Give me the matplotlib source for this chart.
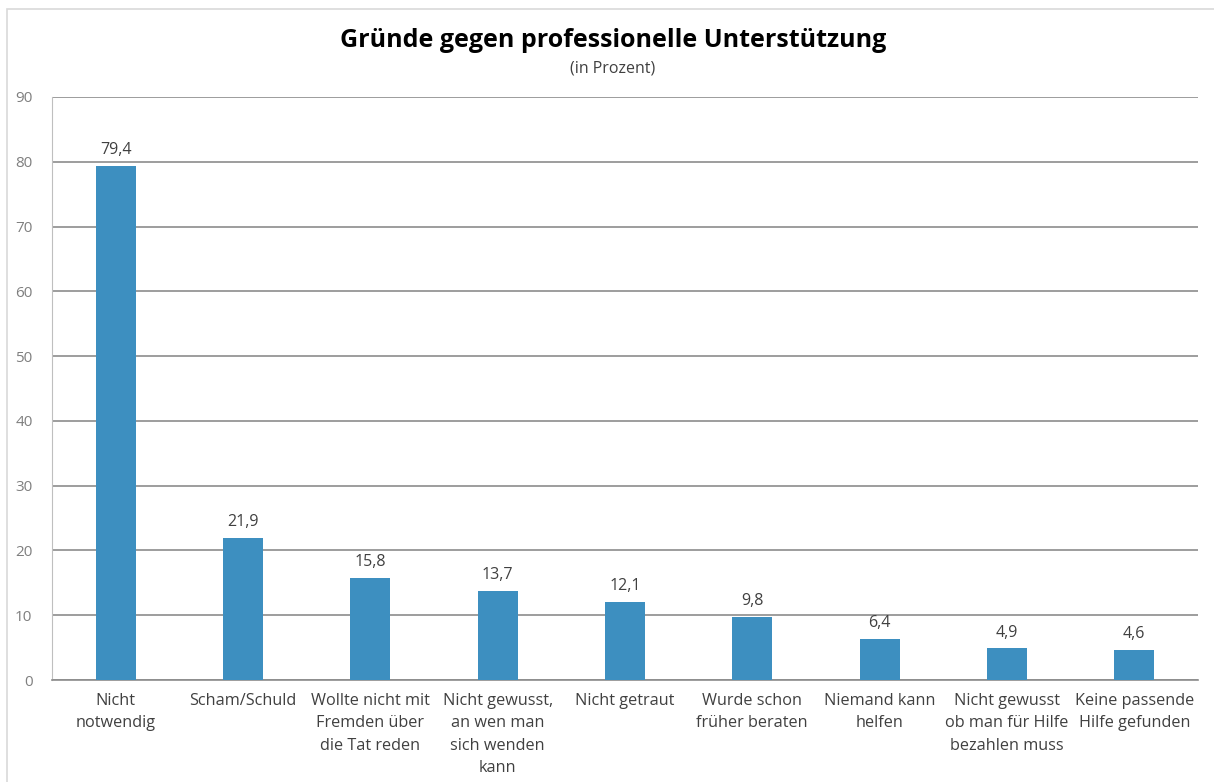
import matplotlib
matplotlib.use("Agg")
import matplotlib.pyplot as plt
from matplotlib.patches import Rectangle

# ── Data ─────────────────────────────────────────────────────────────
categories = [
    "Nicht\nnotwendig",
    "Scham/Schuld",
    "Wollte nicht mit\nFremden über\ndie Tat reden",
    "Nicht gewusst,\nan wen man\nsich wenden\nkann",
    "Nicht getraut",
    "Wurde schon\nfrüher beraten",
    "Niemand kann\nhelfen",
    "Nicht gewusst\nob man für Hilfe\nbezahlen muss",
    "Keine passende\nHilfe gefunden",
]
values = [79.4, 21.9, 15.8, 13.7, 12.1, 9.8, 6.4, 4.9, 4.6]
yticks = [0, 10, 20, 30, 40, 50, 60, 70, 80, 90]

plt.rcParams["font.family"] = ["Open Sans", "DejaVu Sans"]

fig = plt.figure(figsize=(12.14, 7.82), dpi=100)
ax = fig.add_axes([0.0428, 0.1304, 0.944, 0.7456])

x = range(len(values))
ax.bar(x, values, width=0.315, color="#3d8fc0", zorder=3)
for xi, v in zip(x, values):
    ax.text(xi, v + 1.2, f"{v:.1f}".replace(".", ","), ha="center", va="bottom",
            fontsize=11.5, color="#404040")

ax.set_xlim(-0.5, len(values) - 0.5)
ax.set_ylim(0, 90)
ax.set_yticks(yticks)
ax.yaxis.grid(True, color="#8c8c8c", linewidth=1.2, zorder=0)
ax.set_axisbelow(True)
ax.tick_params(axis="y", length=0, labelsize=11, labelcolor="#7f7f7f", pad=14)
ax.set_xticks(list(x))
ax.set_xticklabels(categories, fontsize=11.7, color="#404040", linespacing=1.55)
ax.tick_params(axis="x", length=0, pad=9)

for side in ["top", "right"]:
    ax.spines[side].set_visible(False)
ax.spines["left"].set_color("#bfbfbf")
ax.spines["bottom"].set_color("#8c8c8c")
ax.spines["bottom"].set_linewidth(1.2)

fig.text(0.505, 0.948, "Gründe gegen professionelle Unterstützung",
         ha="center", va="center", fontsize=18, fontweight="bold", color="#000000")
fig.text(0.505, 0.913, "(in Prozent)", ha="center", va="center",
         fontsize=11.5, color="#404040")

# light outer frame like the original chart box
fig.patches.append(Rectangle((0.006, -0.01), 1.0, 0.998, transform=fig.transFigure,
                             fill=False, edgecolor="#d9d9d9", linewidth=1.2))

fig.savefig("out.png", dpi=100)
